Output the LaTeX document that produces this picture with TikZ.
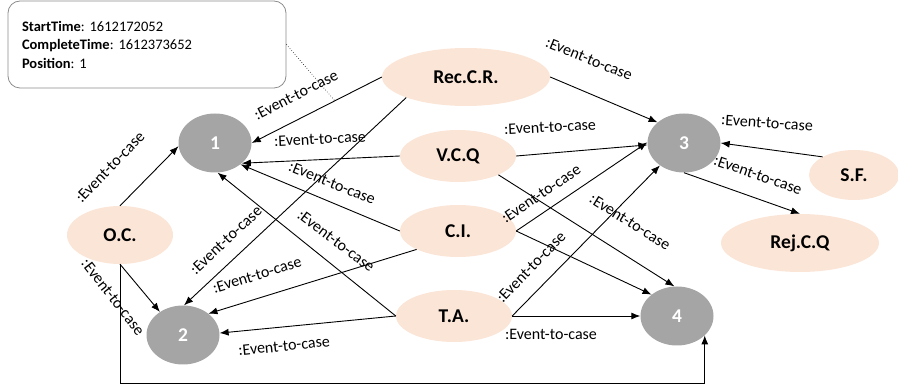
\documentclass[tikz,border=0pt]{standalone}
\usepackage{fontspec}
\setmainfont{Carlito}
\usetikzlibrary{shapes.geometric,arrows.meta}
\definecolor{peach}{HTML}{FBE5D6}
\definecolor{grayfill}{HTML}{A5A5A5}
\definecolor{boxline}{HTML}{8C8C8C}
\frenchspacing
\begin{document}
\begin{tikzpicture}[x=1pt,y=-1pt,
  actnode/.style={ellipse, fill=peach, draw=none, inner sep=0pt,
    font=\fontsize{19.5}{22}\selectfont\bfseries},
  casenode/.style={ellipse, fill=grayfill, draw=none, inner sep=0pt, text=white,
    minimum width=73pt, minimum height=59pt,
    font=\fontsize{19.5}{22}\selectfont\bfseries},
  lbl/.style={font=\fontsize{16}{19}\selectfont, inner sep=0pt},
  conn/.style={-{Latex[length=9pt,width=7pt]}, line width=0.9pt},
  infobox/.style={draw=boxline, line width=0.8pt, rounded corners=12pt,
    minimum width=278pt, minimum height=87pt, inner sep=14pt, text width=250pt,
    align=left, font=\fontsize{14.5}{18.5}\selectfont}]
\useasboundingbox (0,0) rectangle (898,390);

% info box
\node (info) [infobox] at (147,44.5)
  {\textbf{StartTime}: 1612172052\\\textbf{CompleteTime}: 1612373652\\\textbf{Position}: 1};

% activity nodes
\node (OC)  [actnode, minimum width=106pt, minimum height=58pt] at (120,235) {O.C.};
\node (Rec) [actnode, minimum width=168pt, minimum height=58pt] at (466,77) {Rec.C.R.};
\node (VCQ) [actnode, minimum width=116pt, minimum height=52pt] at (458,156) {V.C.Q};
\node (CI)  [actnode, minimum width=116pt, minimum height=52pt] at (458,231) {C.I.};
\node (TA)  [actnode, minimum width=116pt, minimum height=52pt] at (454,316) {T.A.};
\node (SF)  [actnode, minimum width=90pt, minimum height=50pt] at (854,175) {S.F.};
\node (Rej) [actnode, minimum width=158pt, minimum height=58pt] at (800,243) {Rej.C.Q};

% case nodes
\node (n1) [casenode] at (215,143) {1};
\node (n2) [casenode] at (183,335) {2};
\node (n3) [casenode] at (684,143) {3};
\node (n4) [casenode] at (677,316) {4};

\coordinate (dotend) at (335,101);
\coordinate (bottom) at (0,383);

% connectors
\draw[conn] (OC.north) -- (n1.185);
\draw[conn] (OC.south) -- (n2.135);
\draw[conn] (OC.south) -- (OC.south |- bottom) -| (n4.-35);
\draw[conn] (Rec.west) -- (n1.east);
\draw[conn] (Rec.199) -- (n2.88);
\draw[conn] (Rec.east) -- (n3.142);
\draw[conn] (VCQ.west) -- (n1.-37);
\draw[conn] (VCQ.east) -- (n3.183);
\draw[conn] (VCQ.-25) -- (n4.95);
\draw[conn] (CI.west) -- (n1.-40);
\draw[conn] (CI.204) -- (n2.40);
\draw[conn] (CI.east) -- (n3.179);
\draw[conn] (CI.east) -- (n4.140);
\draw[conn] (TA.west) -- (n1.-85);
\draw[conn] (TA.west) -- (n2.3);
\draw[conn] (TA.east) -- (n3.223);
\draw[conn] (TA.east) -- (n4.west);
\draw[conn] (SF.150) -- (n3.east);
\draw[conn] (n3.south) -- (Rej.north);

\draw[dotted, line width=0.6pt] (info.east) -- (dotend);

% labels
\node[lbl, rotate=46]  (l1)  at (110,167) {:Event-to-case};
\node[lbl, rotate=-52] (l2)  at (113,297) {:Event-to-case};
\node[lbl, rotate=27]  (l3)  at (296,95)  {:Event-to-case};
\node[lbl, rotate=3]   (l4)  at (320,139) {:Event-to-case};
\node[lbl, rotate=-22] (l5)  at (332,183) {:Event-to-case};
\node[lbl, rotate=-37] (l6)  at (336,241) {:Event-to-case};
\node[lbl, rotate=43]  (l7)  at (226,240) {:Event-to-case};
\node[lbl, rotate=17]  (l8)  at (257,275) {:Event-to-case};
\node[lbl, rotate=6]   (l9)  at (284,346) {:Event-to-case};
\node[lbl, rotate=-22] (l10) at (589,59)  {:Event-to-case};
\node[lbl, rotate=3]   (l11) at (550,127) {:Event-to-case};
\node[lbl, rotate=34]  (l12) at (541,194) {:Event-to-case};
\node[lbl, rotate=-32] (l13) at (630,222) {:Event-to-case};
\node[lbl, rotate=46]  (l14) at (531,267) {:Event-to-case};
\node[lbl]             (l15) at (551,334) {:Event-to-case};
\node[lbl, rotate=-4]  (l16) at (767,123) {:Event-to-case};
\node[lbl, rotate=-19] (l17) at (758,175) {:Event-to-case};
\end{tikzpicture}
\end{document}
